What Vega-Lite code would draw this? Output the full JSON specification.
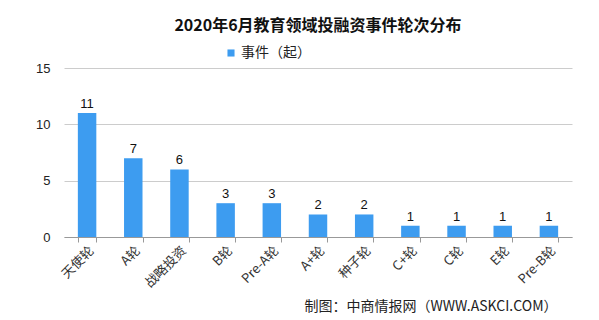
{
  "$schema": "https://vega.github.io/schema/vega-lite/v6.json",
  "autosize": "none",
  "width": 508,
  "height": 169,
  "padding": {"left": 64, "top": 68, "right": 27, "bottom": 83},
  "background": "white",
  "title": {
    "text": "2020年6月教育领域投融资事件轮次分布",
    "font": "Noto Sans CJK SC",
    "fontSize": 16,
    "fontWeight": "bold",
    "color": "#111111",
    "anchor": "middle",
    "offset": 12
  },
  "data": {
    "values": [
      {"round": "天使轮", "count": 11},
      {"round": "A轮", "count": 7},
      {"round": "战略投资", "count": 6},
      {"round": "B轮", "count": 3},
      {"round": "Pre-A轮", "count": 3},
      {"round": "A+轮", "count": 2},
      {"round": "种子轮", "count": 2},
      {"round": "C+轮", "count": 1},
      {"round": "C轮", "count": 1},
      {"round": "E轮", "count": 1},
      {"round": "Pre-B轮", "count": 1}
    ]
  },
  "encoding": {
    "x": {
      "field": "round",
      "type": "nominal",
      "sort": null,
      "scale": {"paddingInner": 0.6, "paddingOuter": 0.3},
      "axis": {
        "title": "制图：中商情报网（WWW.ASKCI.COM）",
        "titleFont": "Noto Sans CJK SC",
        "titleFontSize": 14,
        "titleFontWeight": "normal",
        "titleColor": "#222222",
        "titleAnchor": "end",
        "titleAlign": "right",
        "titleX": 493,
        "titlePadding": 10,
        "labelAngle": -45,
        "labelAlign": "right",
        "labelBaseline": "top",
        "labelFont": "Noto Sans CJK SC",
        "labelFontSize": 13,
        "labelColor": "#333333",
        "labelPadding": 2,
        "tickBand": "extent",
        "tickColor": "#999999",
        "tickSize": 5,
        "domainColor": "#999999",
        "grid": false
      }
    },
    "y": {
      "field": "count",
      "type": "quantitative",
      "scale": {"domain": [0, 15]},
      "axis": {
        "title": null,
        "values": [0, 5, 10, 15],
        "labelFont": "Liberation Sans",
        "labelFontSize": 13,
        "labelColor": "#222222",
        "labelPadding": 14,
        "domain": false,
        "ticks": false,
        "gridColor": "#cccccc"
      }
    }
  },
  "layer": [
    {
      "mark": {"type": "bar", "color": "#3d9cf0"},
      "encoding": {
        "color": {
          "datum": "事件（起）",
          "scale": {"range": ["#3d9cf0"]},
          "legend": {
            "title": null,
            "orient": "none",
            "legendX": 160,
            "legendY": -22,
            "direction": "horizontal",
            "symbolType": "square",
            "symbolSize": 50,
            "labelOffset": 3,
            "labelFont": "Noto Sans CJK SC",
            "labelFontSize": 14,
            "labelColor": "#222222"
          }
        }
      }
    },
    {
      "mark": {"type": "text", "dy": -9, "font": "Liberation Sans", "fontSize": 13, "color": "#111111"},
      "encoding": {"text": {"field": "count", "type": "quantitative"}}
    }
  ],
  "config": {"view": {"stroke": null}}
}
